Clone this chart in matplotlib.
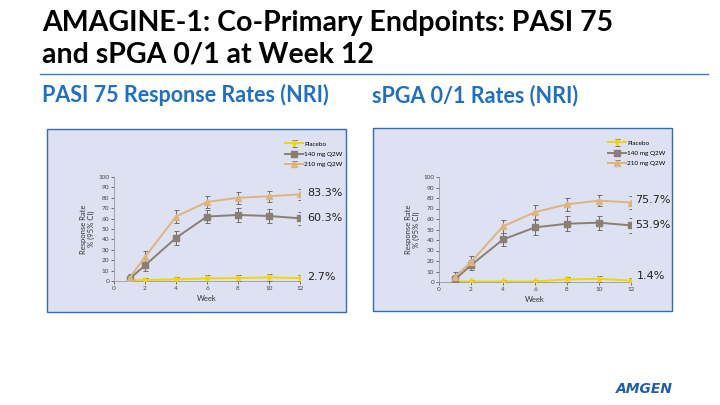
import matplotlib
matplotlib.use("Agg")
import matplotlib.pyplot as plt
from matplotlib.patches import Rectangle
from matplotlib.lines import Line2D

# ================================================================
# DONNEES
# ================================================================
WEEKS = [1, 2, 4, 6, 8, 10, 12]
SERIES = ["Placebo", "140 mg Q2W", "210 mg Q2W"]

# PASI 75
pasi_placebo = [0.5, 1.0, 1.5, 2.5, 2.8, 3.5, 2.7]
pasi_140 = [2.0, 15.0, 41.5, 62.0, 63.5, 62.5, 60.3]
pasi_210 = [3.0, 23.0, 62.0, 76.0, 80.0, 81.5, 83.3]
pasi_err_placebo = [1.5, 2.0, 2.5, 3.0, 3.0, 3.5, 3.0]
pasi_err_140 = [3.5, 5.0, 6.5, 6.5, 6.5, 7.0, 6.5]
pasi_err_210 = [4.0, 6.0, 6.5, 5.5, 5.5, 5.5, 5.0]
pasi_labels = ["2.7%", "60.3%", "83.3%"]

# sPGA 0/1
spga_placebo = [0.5, 0.5, 0.5, 0.5, 2.5, 3.0, 1.4]
spga_140 = [2.5, 16.0, 40.5, 52.0, 55.5, 56.5, 53.9]
spga_210 = [5.0, 19.0, 53.0, 66.5, 74.0, 77.5, 75.7]
spga_err_placebo = [1.0, 1.0, 1.0, 1.0, 2.5, 3.0, 2.0]
spga_err_140 = [4.0, 5.0, 6.5, 7.0, 7.0, 6.5, 7.0]
spga_err_210 = [5.0, 6.0, 6.5, 6.5, 6.0, 5.5, 6.0]
spga_labels = ["1.4%", "53.9%", "75.7%"]

COLORS = {"Placebo": "#F2D600", "140 mg Q2W": "#8A7F72", "210 mg Q2W": "#DDB47E"}
MARKERS = {"Placebo": "d", "140 mg Q2W": "s", "210 mg Q2W": "^"}

W, H = 720, 405
fig = plt.figure(figsize=(7.2, 4.05), dpi=100)
fig.patch.set_facecolor("white")
plt.rcParams['font.family'] = ['Lato', 'DejaVu Sans']


def fx(px):
    return px / W


def fy(py):
    return 1 - py / H


# --- titre ---
fig.text(fx(42), fy(31), "AMAGINE-1: Co-Primary Endpoints: PASI 75", fontsize=20.5,
         fontweight="bold", color="black", va="baseline")
fig.text(fx(42), fy(63), "and sPGA 0/1 at Week 12", fontsize=20.5,
         fontweight="bold", color="black", va="baseline")
fig.add_artist(Line2D([fx(40), fx(708)], [fy(74), fy(74)], color="#3A78C4", lw=1.0))
fig.text(fx(42), fy(102), "PASI 75 Response Rates (NRI)", fontsize=15.5,
         fontweight="bold", color="#1F6FC5", va="baseline")
fig.text(fx(372), fy(102), "sPGA 0/1 Rates (NRI)", fontsize=15.5,
         fontweight="bold", color="#1F6FC5", va="baseline")

# logo
fig.text(fx(616), fy(393), "AMGEN", fontsize=10, fontweight="heavy", style="italic",
         color="#1F5FAD", va="baseline", family=["DejaVu Sans"])


def panel(box, axrect, data, errs, labels, label_pos, leg_pos):
    x0, y0, x1, y1 = box
    fig.add_artist(Rectangle((fx(x0), fy(y1)), fx(x1 - x0), fy(y0) - fy(y1),
                             transform=fig.transFigure, facecolor="#DDE1F2",
                             edgecolor="#2F6DB5", lw=1.0, zorder=0))
    ax = fig.add_axes(axrect)
    ax.set_facecolor("none")
    for name, vals, err in zip(SERIES, data, errs):
        ax.errorbar(WEEKS, vals, yerr=err, color=COLORS[name], marker=MARKERS[name],
                    ms=4 if name != "Placebo" else 3, lw=1.4, ecolor="#6E6E6E",
                    elinewidth=0.7, capsize=1.8, capthick=0.7, label=name, zorder=3)
    ax.set_xlim(0, 12)
    ax.set_ylim(0, 100)
    ax.set_xticks(range(0, 13, 2))
    ax.set_yticks(range(0, 101, 10))
    ax.tick_params(labelsize=4.6, length=2, width=0.5, colors="#444444", pad=1.5)
    for s in ["top", "right"]:
        ax.spines[s].set_visible(False)
    for s in ["left", "bottom"]:
        ax.spines[s].set_color("#9A9A9A")
        ax.spines[s].set_linewidth(0.6)
    ax.set_xlabel("Week", fontsize=5.5, color="#333333", labelpad=3)
    ax.set_ylabel("Response Rate\n% (95% CI)", fontsize=5.5, color="#333333", labelpad=2)
    for lab, (px, py) in zip(labels, label_pos):
        fig.text(fx(px), fy(py), lab, fontsize=8, color="#222222", va="center",
                 family=["DejaVu Sans"])
    handles, names = ax.get_legend_handles_labels()
    ax.legend(handles, names, loc="upper left", bbox_to_anchor=(fx(leg_pos[0]), fy(leg_pos[1])),
              bbox_transform=fig.transFigure, frameon=False, fontsize=4.6,
              handlelength=2.8, handletextpad=0.2, labelspacing=0.75, borderpad=0)
    return ax


panel((47, 129, 346, 312), [fx(114), fy(281), fx(186), fy(177) - fy(281)],
      [pasi_placebo, pasi_140, pasi_210],
      [pasi_err_placebo, pasi_err_140, pasi_err_210],
      pasi_labels, [(307, 277), (307, 218), (307, 193)], (282, 138))

panel((373, 128, 672, 311), [fx(439), fy(282), fx(192), fy(177) - fy(282)],
      [spga_placebo, spga_140, spga_210],
      [spga_err_placebo, spga_err_140, spga_err_210],
      spga_labels, [(637, 276), (635, 225), (635, 200)], (605, 137))

fig.savefig("out.png", dpi=100)
